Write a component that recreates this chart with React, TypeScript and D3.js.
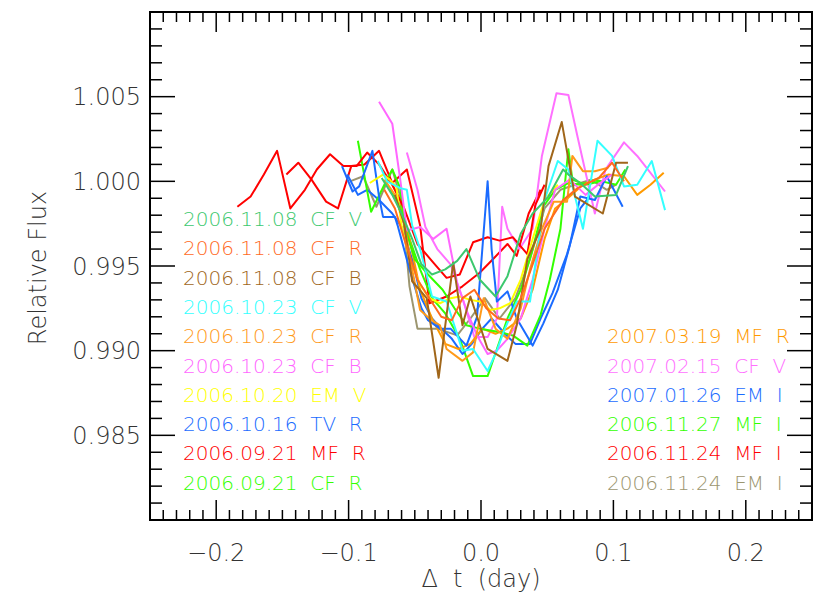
import React from 'react';
import * as d3 from 'd3';

// observation names, left column then right column (double gaps as in the original)
const leftNames = [
  '2006.11.08  CF  V', '2006.11.08  CF  R', '2006.11.08  CF  B', '2006.10.23  CF  V',
  '2006.10.23  CF  R', '2006.10.23  CF  B', '2006.10.20  EM  V', '2006.10.16  TV  R',
  '2006.09.21  MF  R', '2006.09.21  CF  R',
];
const rightNames = [
  '2007.03.19  MF  R', '2007.02.15  CF  V', '2007.01.26  EM  I',
  '2006.11.27  MF  I', '2006.11.24  MF  I', '2006.11.24  EM  I',
];
const leftColors = ['#3cc86e', '#ff6a1e', '#a0661a', '#33ffff', '#ff9a1a', '#ff66ff', '#ffff00', '#1a6bff', '#ff0000', '#33ff00'];
const rightColors = ['#ff9a00', '#ff70ff', '#1a6bff', '#33ff00', '#ff0000', '#9c9670'];

// [delta t (day), relative flux]
const s061108V = [[-0.075,1.0002],[-0.067,0.9992],[-0.06,0.9981],[-0.052,0.9966],[-0.045,0.9951],[-0.037,0.9945],[-0.027,0.9948],[-0.018,0.9953],[-0.011,0.996],[-0.001,0.9942],[0.011,0.9932],[0.02,0.9944],[0.03,0.9969],[0.039,0.9981],[0.051,0.9991],[0.062,1.0007],[0.066,1.0004],[0.075,0.9999],[0.086,0.9991],[0.102,0.9992],[0.111,1.0009]];
const s061108R = [[-0.073,0.9995],[-0.065,0.9984],[-0.058,0.9966],[-0.048,0.9942],[-0.039,0.9931],[-0.03,0.992],[-0.022,0.9918],[-0.014,0.9931],[-0.005,0.9936],[0.004,0.9925],[0.013,0.9919],[0.022,0.9918],[0.03,0.9931],[0.039,0.9951],[0.048,0.9972],[0.062,0.9989],[0.073,0.9996],[0.089,1.0002],[0.099,1.0011],[0.108,1.0]];
const s061108B = [[-0.065,0.9992],[-0.058,0.9975],[-0.052,0.9941],[-0.041,0.9931],[-0.032,0.9884],[-0.021,0.9952],[-0.014,0.9915],[-0.008,0.9932],[0.005,0.9901],[0.02,0.9894],[0.027,0.9915],[0.035,0.9954],[0.045,0.9972],[0.051,1.0009],[0.061,1.0035],[0.071,0.9991],[0.092,0.9981],[0.102,1.0011],[0.111,1.0011]];
const s061023V = [[-0.078,1.0012],[-0.071,1.0],[-0.061,0.9996],[-0.056,0.9995],[-0.052,0.9974],[-0.046,0.996],[-0.037,0.9932],[-0.026,0.9929],[-0.014,0.99],[-0.006,0.9901],[0.005,0.9888],[0.012,0.99],[0.017,0.9911],[0.027,0.9929],[0.037,0.9929],[0.048,0.9989],[0.058,1.0012],[0.066,1.0007],[0.077,0.9972],[0.088,1.0024],[0.099,1.0015],[0.108,0.9997],[0.118,0.9998],[0.129,1.0012],[0.139,0.9983]];
const s061023R = [[-0.073,1.0001],[-0.065,0.9992],[-0.058,0.9975],[-0.052,0.9948],[-0.046,0.9924],[-0.039,0.9919],[-0.031,0.9915],[-0.026,0.9901],[-0.014,0.9894],[-0.006,0.9899],[0.002,0.9931],[0.011,0.9913],[0.02,0.9907],[0.03,0.9925],[0.037,0.9948],[0.046,0.9972],[0.055,0.9988],[0.065,0.9988],[0.069,1.0015],[0.077,1.0006],[0.086,1.0006],[0.096,1.0008]];
const s061023B = [[-0.077,1.0047],[-0.067,1.0034],[-0.061,1.0001],[-0.056,0.9971],[-0.046,0.9973],[-0.036,0.9966],[-0.026,0.9972],[-0.018,0.994],[-0.011,0.9924],[-0.003,0.9909],[0.005,0.9898],[0.012,0.99],[0.02,0.9907],[0.03,0.9919],[0.039,0.9942],[0.048,0.9972],[0.056,0.9995],[0.067,1.0001],[0.079,0.9992],[0.09,0.9999],[0.099,1.0004]];
const s061020V = [[-0.084,0.9999],[-0.074,1.0004],[-0.069,1.0001],[-0.064,0.9997],[-0.06,0.9974],[-0.054,0.9954],[-0.046,0.9939],[-0.039,0.9931],[-0.031,0.9928],[-0.023,0.9931],[-0.016,0.9932],[-0.008,0.993],[-0.001,0.9929],[0.007,0.9924],[0.014,0.9925],[0.022,0.9928],[0.03,0.9942],[0.039,0.9966],[0.048,0.9989],[0.058,0.9998]];
const s061016R = [[-0.105,1.0009],[-0.097,0.9994],[-0.092,0.9997],[-0.082,1.0018],[-0.077,0.9991],[-0.074,0.9979],[-0.065,0.9979],[-0.063,0.9974],[-0.054,0.9948],[-0.045,0.9925],[-0.04,0.9918],[-0.031,0.9913],[-0.023,0.9913],[-0.011,0.9903],[-0.003,0.992],[0.005,1.0],[0.008,0.996],[0.012,0.9929],[0.02,0.9935],[0.027,0.9919],[0.039,0.9903],[0.047,0.9916],[0.058,0.9936],[0.067,0.9962],[0.075,0.9991],[0.086,0.9989],[0.095,1.0003],[0.107,0.9985]];
const s060921MF = [[-0.184,0.9985],[-0.174,0.9991],[-0.164,1.0004],[-0.154,1.0018],[-0.144,0.9984],[-0.133,0.9995],[-0.124,1.0007],[-0.114,1.0016],[-0.104,1.0009],[-0.094,1.0009],[-0.086,1.0017],[-0.077,1.001],[-0.067,0.9998],[-0.058,0.9984],[-0.048,0.9963],[-0.036,0.9952],[-0.026,0.9943],[-0.016,0.9945],[-0.006,0.9964],[0.005,0.9967],[0.014,0.9965],[0.024,0.9967],[0.035,0.9957],[0.041,0.9986],[0.048,0.9998]];
const s060921CF = [[-0.093,1.0024],[-0.083,0.9982],[-0.073,0.9998],[-0.067,1.0007],[-0.061,0.9996],[-0.058,0.9974],[-0.05,0.9954],[-0.04,0.9945],[-0.029,0.9936],[-0.02,0.9925],[-0.011,0.9915],[-0.001,0.9913],[0.014,0.9911],[0.024,0.9909],[0.035,0.9903],[0.045,0.9921],[0.052,0.9942],[0.06,0.9972],[0.066,1.0019],[0.069,1.0001],[0.079,0.9998],[0.09,1.0]];
const s070319R = [[-0.069,1.0001],[-0.061,0.9989],[-0.054,0.9966],[-0.046,0.9936],[-0.037,0.9919],[-0.027,0.9904],[-0.017,0.9901],[-0.008,0.9904],[0.001,0.9913],[0.011,0.991],[0.02,0.9913],[0.03,0.9919],[0.039,0.9936],[0.048,0.9966],[0.056,0.9984],[0.064,0.9989],[0.077,0.9998],[0.086,1.0001],[0.096,1.0004],[0.108,1.0003],[0.118,0.9992],[0.128,0.9998],[0.138,1.0005]];
const s070215V = [[-0.056,1.0017],[-0.048,0.9995],[-0.042,0.9973],[-0.033,0.996],[-0.023,0.9951],[-0.014,0.9931],[-0.005,0.9908],[0.005,0.9908],[0.012,0.9919],[0.016,0.9985],[0.02,0.9972],[0.029,0.996],[0.039,0.9972],[0.046,1.0015],[0.057,1.0052],[0.066,1.0051],[0.073,1.0026],[0.086,0.9981],[0.094,1.0007],[0.108,1.0023],[0.118,1.0015],[0.139,0.9994]];
const s070126I = [[-0.101,1.0004],[-0.093,0.9992],[-0.086,0.9995],[-0.077,0.9989],[-0.067,0.9981],[-0.06,0.9973],[-0.052,0.9954],[-0.045,0.9931],[-0.037,0.9919],[-0.03,0.9913],[-0.022,0.9907],[-0.014,0.9898],[-0.007,0.9904],[0.001,0.9913],[0.008,0.9919],[0.018,0.991],[0.026,0.9904],[0.037,0.9904],[0.045,0.9919],[0.054,0.9934],[0.065,0.9957],[0.075,0.9984],[0.083,0.9992]];
const s061127I = [[-0.069,0.9995],[-0.061,0.9986],[-0.054,0.9966],[-0.046,0.9948],[-0.037,0.9931],[-0.027,0.9922],[-0.016,0.9907],[-0.006,0.9885],[0.005,0.9885],[0.012,0.9901],[0.02,0.9919],[0.03,0.9936],[0.039,0.996],[0.047,0.9985],[0.056,0.9995],[0.066,0.9999],[0.075,0.9998],[0.086,1.0001],[0.102,0.9998],[0.109,1.0007]];
const s061124MF = [[-0.147,1.0004],[-0.138,1.0011],[-0.128,1.0001],[-0.117,0.9988],[-0.108,0.9984],[-0.098,1.0009],[-0.088,1.001],[-0.077,1.0018],[-0.067,0.9999],[-0.056,1.0007],[-0.046,0.9974],[-0.039,0.9928],[-0.026,0.9932],[-0.014,0.9938],[-0.001,0.9946],[0.009,0.9954],[0.02,0.9963],[0.027,0.9956],[0.036,0.9981],[0.045,0.9995]];
const s061124EM = [[-0.099,1.0],[-0.089,1.0003],[-0.079,0.9985],[-0.067,1.0007],[-0.061,0.9991],[-0.058,0.9973],[-0.054,0.9938],[-0.048,0.9913],[-0.033,0.9913],[-0.018,0.9909],[-0.008,0.9919],[0.003,0.9931],[0.014,0.9919],[0.026,0.9931],[0.037,0.9954],[0.048,0.9984],[0.06,0.9995],[0.071,0.9998],[0.083,1.0001],[0.095,0.9995],[0.102,0.9998]];

const leftSeries = [s061108V, s061108R, s061108B, s061023V, s061023R, s061023B, s061020V, s061016R, s060921MF, s060921CF];
const rightSeries = [s070319R, s070215V, s070126I, s061127I, s061124MF, s061124EM];

const xTickValues = [-0.2, -0.1, 0.0, 0.1, 0.2];
const xTickLabels = ['\u22120.2', '\u22120.1', '0.0', '0.1', '0.2'];
const yTickValues = [0.985, 0.99, 0.995, 1.0, 1.005];
const yTickLabels = ['0.985', '0.990', '0.995', '1.000', '1.005'];
const xTitle = '\u0394  t  (day)';
const yTitle = 'Relative Flux';

const W = 830;
const H = 593;
const box = { left: 150, right: 812, top: 12, bottom: 520 };
const FONT = '"DejaVu Sans", sans-serif';

// svg collapses runs of spaces, so keep the wide gaps with no-break spaces
const keepGaps = (s: string) => s.replace(/ /g, '\u00a0');

export default function App() {
  const x = d3.scaleLinear().domain([-0.25, 0.25]).range([box.left, box.right]);
  const y = d3.scaleLinear().domain([0.98, 1.01]).range([box.bottom, box.top]);
  const line = d3.line<number[]>().x(d => x(d[0])).y(d => y(d[1]));

  const xMinor = d3.range(-25, 26).map(i => i / 100);
  const yMinor = d3.range(0, 31).map(i => 0.98 + i * 0.001);

  const allSeries = leftSeries.concat(rightSeries);
  const allColors = leftColors.concat(rightColors);
  // draw from the bottom of the legend up
  const order = d3.range(allSeries.length).reverse();

  const rowY = (i: number) => 226 + i * 29.3;

  return (
    <svg width={W} height={H} style={{ position: 'absolute', left: 0, top: 0, background: '#fff' }}>
      <rect x={0} y={0} width={W} height={H} fill="#fff" />

      <g fill="none" strokeWidth={2} strokeLinejoin="round">
        {order.map(i => (
          <path key={'s' + i} d={line(allSeries[i] as number[][]) || ''} stroke={allColors[i]} />
        ))}
      </g>

      {/* ticks */}
      <g stroke="#000" strokeWidth={1.5}>
        {xMinor.map((v, i) => {
          const major = Math.abs(v * 10 - Math.round(v * 10)) < 1e-6;
          const len = major ? 20 : 10;
          return (
            <g key={'xt' + i}>
              <line x1={x(v)} x2={x(v)} y1={box.bottom} y2={box.bottom - len} />
              <line x1={x(v)} x2={x(v)} y1={box.top} y2={box.top + len} />
            </g>
          );
        })}
        {yMinor.map((v, i) => {
          const major = i % 5 === 0;
          const len = major ? 25 : 12;
          return (
            <g key={'yt' + i}>
              <line x1={box.left} x2={box.left + len} y1={y(v)} y2={y(v)} />
              <line x1={box.right} x2={box.right - len} y1={y(v)} y2={y(v)} />
            </g>
          );
        })}
      </g>

      <rect x={box.left} y={box.top} width={box.right - box.left} height={box.bottom - box.top}
        fill="none" stroke="#000" strokeWidth={2} />

      {/* tick labels and titles */}
      <g fontFamily={FONT} fontSize={24} fontWeight={200} fill="#333">
        {xTickValues.map((v, i) => (
          <text key={'xl' + i} x={x(v)} y={561} textAnchor="middle">{xTickLabels[i]}</text>
        ))}
        {yTickValues.map((v, i) => (
          <text key={'yl' + i} x={141} y={y(v) + 8.5} textAnchor="end">{yTickLabels[i]}</text>
        ))}
        <text x={x(0)} y={587} textAnchor="middle">{keepGaps(xTitle)}</text>
        <text transform={`translate(46,${(box.top + box.bottom) / 2 + 2}) rotate(-90)`} textAnchor="middle">{keepGaps(yTitle)}</text>
      </g>

      {/* legends */}
      <g fontFamily={FONT} fontSize={20} fontWeight={200}>
        {leftNames.map((n, i) => (
          <text key={'ln' + i} x={183} y={rowY(i)} fill={leftColors[i]}>{keepGaps(n)}</text>
        ))}
        {rightNames.map((n, i) => (
          <text key={'rn' + i} x={607} y={rowY(i + 4)} fill={rightColors[i]}>{keepGaps(n)}</text>
        ))}
      </g>
    </svg>
  );
}
